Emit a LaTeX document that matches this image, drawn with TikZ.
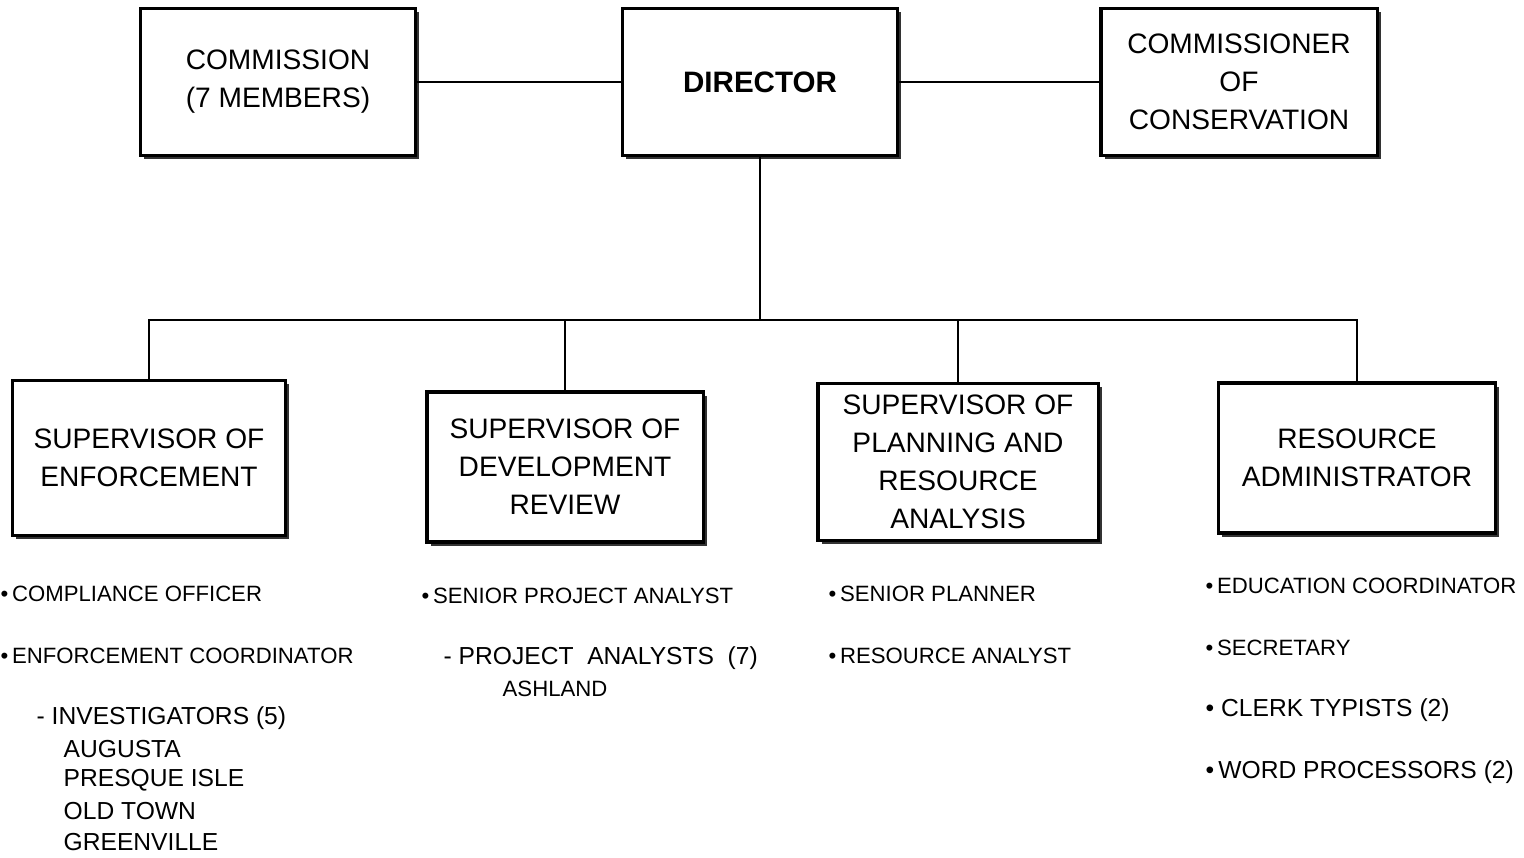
\documentclass[tikz,border=0pt]{standalone}
\usepackage{fontspec}
\setmainfont{Liberation Sans}
\usetikzlibrary{shadows}

\tikzset{
	box/.style={draw, line width=0.9pt, fill=white, align=center, inner sep=0pt,
		font=\fontsize{8}{10.8}\selectfont,
		general shadow={fill=black!80, shadow xshift=1.1pt, shadow yshift=-1.1pt}},
	item/.style={anchor=west, inner sep=0pt, font=\fontsize{6.3}{8}\selectfont},
	wide/.style={item, font=\fontsize{7}{8}\selectfont},
	link/.style={line width=0.7pt}
}

\begin{document}
\begin{tikzpicture}[x=0.01cm, y=-0.01cm]
	\useasboundingbox (0,0) rectangle (1524,858);

	% top row
	\node[box, minimum width=2.75cm, minimum height=1.47cm] (comm) at (278,82) {COMMISSION\\(7 MEMBERS)};
	\node[box, minimum width=2.75cm, minimum height=1.47cm, font=\fontsize{8.4}{10.8}\selectfont\bfseries] (dir) at (760,82) {DIRECTOR};
	\node[box, minimum width=2.76cm, minimum height=1.47cm] (cons) at (1239,82) {COMMISSIONER\\OF\\CONSERVATION};

	% supervisors
	\node[box, minimum width=2.73cm, minimum height=1.55cm] (enf) at (149,458) {SUPERVISOR OF\\ENFORCEMENT};
	\node[box, minimum width=2.76cm, minimum height=1.50cm] (dev) at (565,467) {SUPERVISOR OF\\DEVELOPMENT\\REVIEW};
	\node[box, minimum width=2.80cm, minimum height=1.57cm] (plan) at (958,462) {SUPERVISOR OF\\PLANNING AND\\RESOURCE\\ANALYSIS};
	\node[box, minimum width=2.77cm, minimum height=1.50cm] (res) at (1357,458) {RESOURCE\\ADMINISTRATOR};

	\coordinate (bus) at (760,320);

	\draw[link] (comm.east) -- (dir.west);
	\draw[link] (dir.east) -- (cons.west);
	\draw[link] (dir.south) -- (bus);
	\draw[link] (enf.north) |- (res.north |- bus) -- (res.north);
	\draw[link] (dev.north) -- (dev.north |- bus);
	\draw[link] (plan.north) -- (plan.north |- bus);

	% staff lists
	\node[item] (enf1) at (0,594) {\textbullet\,COMPLIANCE OFFICER};
	\node[item] (enf2) at (0,656) {\textbullet\,ENFORCEMENT COORDINATOR};
	\node[wide] (enf3) at (36,718) {- INVESTIGATORS\ (5)};
	\node[wide] (enf4) at (63,749) {AUGUSTA};
	\node[wide] (enf5) at (63,780) {PRESQUE ISLE};
	\node[wide] (enf6) at (63,811) {OLD TOWN};
	\node[wide] (enf7) at (63,842) {GREENVILLE};

	\node[item] (dev1) at (421,596) {\textbullet\,SENIOR PROJECT ANALYST};
	\node[wide] (dev2) at (443,658) {- PROJECT\ \ ANALYSTS\ \ (7)};
	\node[item] (dev3) at (502,689) {ASHLAND};

	\node[item] (plan1) at (828,594) {\textbullet\,SENIOR PLANNER};
	\node[item] (plan2) at (828,656) {\textbullet\,RESOURCE ANALYST};

	\node[item] (res1) at (1205,586) {\textbullet\,EDUCATION COORDINATOR};
	\node[item] (res2) at (1205,648) {\textbullet\,SECRETARY};
	\node[wide] (res3) at (1205,710) {\textbullet\ CLERK TYPISTS (2)};
	\node[wide] (res4) at (1205,772) {\textbullet\,WORD PROCESSORS (2)};
\end{tikzpicture}
\end{document}
